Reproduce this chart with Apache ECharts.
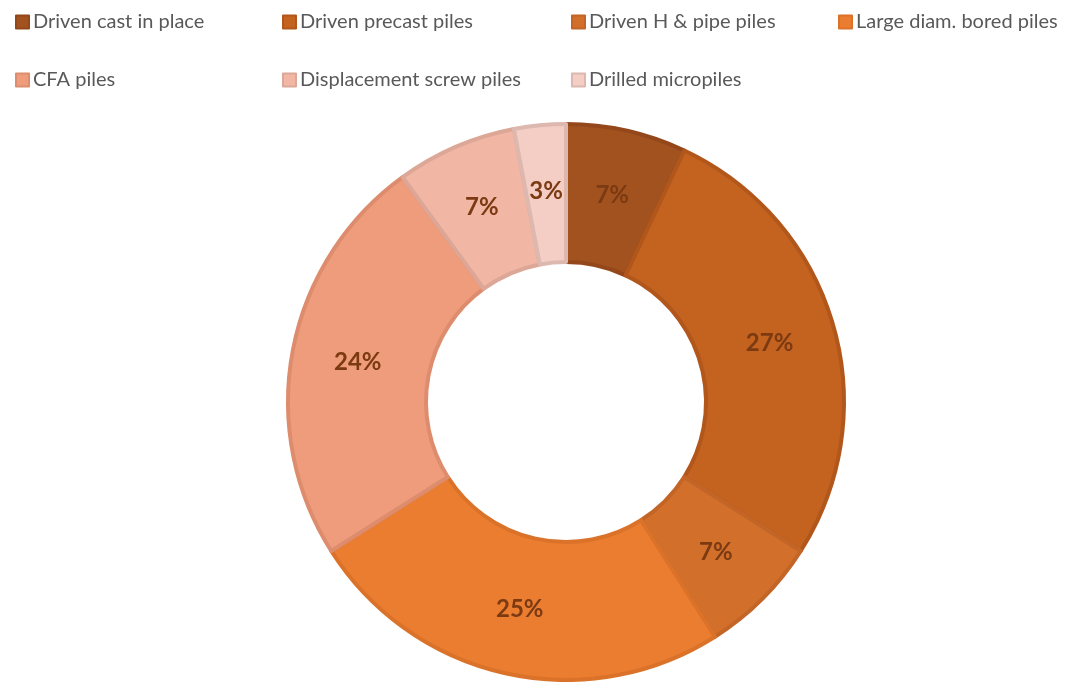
<!DOCTYPE html>
<html>
<head>
<meta charset="utf-8">
<script src="https://cdn.jsdelivr.net/npm/echarts@6/dist/echarts.min.js"></script>
<style>
  html, body { margin: 0; padding: 0; background: #fff; }
  #chart { width: 1085px; height: 682px; }
</style>
</head>
<body>
<div id="chart"></div>
<script>
const categories = [
  'Driven cast in place',
  'Driven precast piles',
  'Driven H & pipe piles',
  'Large diam. bored piles',
  'CFA piles',
  'Displacement screw piles',
  'Drilled micropiles'
];
const shares = [7, 27, 7, 25, 24, 7, 3];

const fills = ['#A2521F', '#C4621F', '#D2702B', '#EB7D31', '#EE9C7C', '#F2B6A4', '#F4CEC4'];
const edges = ['#94471A', '#B2571B', '#C26526', '#DB7229', '#DD8D6E', '#DDA797', '#DDB8AF'];

// legend slots laid out like the original: 4 columns, 2 rows
const legendSlots = [
  [10, 7], [277, 7], [566, 7], [833, 7],
  [10, 65], [277, 65], [566, 65]
];

const chart = echarts.init(document.getElementById('chart'), null, { renderer: 'canvas' });

const legends = categories.map((name, i) => ({
  data: [name],
  left: legendSlots[i][0],
  top: legendSlots[i][1],
  icon: 'rect',
  itemWidth: 13,
  itemHeight: 13,
  itemGap: 4,
  selectedMode: false,
  textStyle: { color: '#595959', fontSize: 20, fontFamily: 'Lato, "Open Sans", sans-serif', padding: [0, 0, 0, -1] }
}));

chart.setOption({
  animation: false,
  backgroundColor: '#fff',
  legend: legends,
  series: [{
    type: 'pie',
    center: [566, 402],
    radius: [140, 278],
    startAngle: 90,
    clockwise: true,
    avoidLabelOverlap: false,
    label: {
      show: true,
      position: 'inside',
      formatter: '{c}%',
      color: '#7B3A12',
      fontSize: 24,
      fontWeight: 'bold',
      fontFamily: 'Lato, "Open Sans", sans-serif'
    },
    labelLine: { show: false },
    emphasis: { disabled: true },
    data: categories.map((name, i) => ({
      name: name,
      value: shares[i],
      itemStyle: { color: fills[i], borderColor: edges[i], borderWidth: 4 }
    }))
  }]
});
</script>
</body>
</html>
